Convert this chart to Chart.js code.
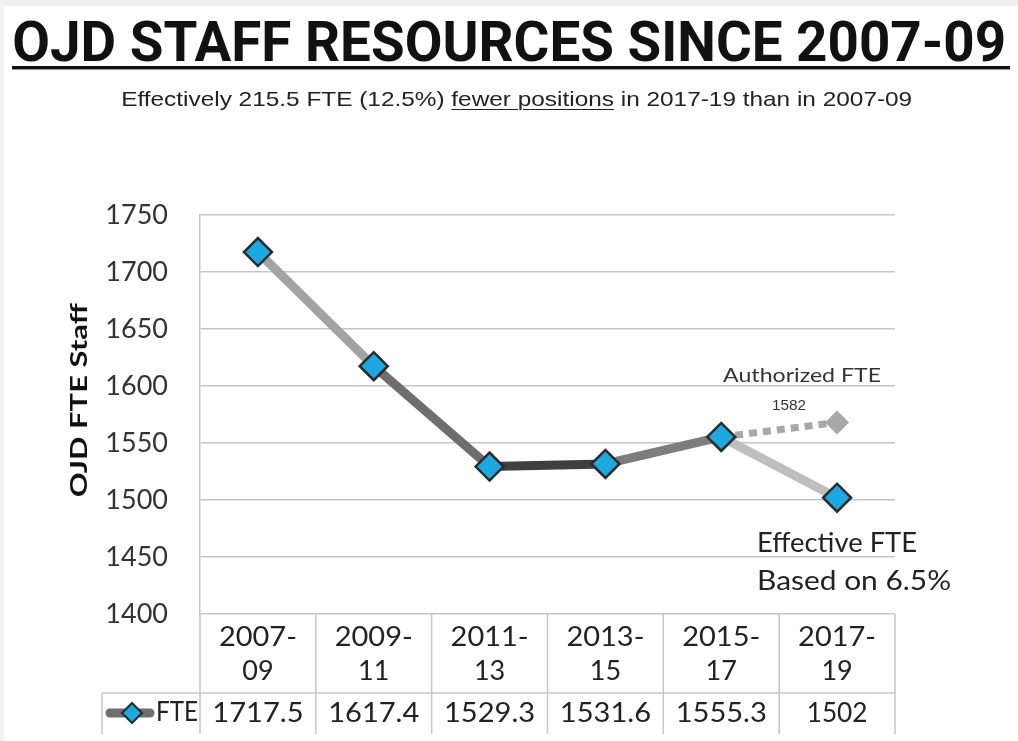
<!DOCTYPE html>
<html>
<head>
<meta charset="utf-8">
<script src="https://cdn.jsdelivr.net/npm/chart.js@4.4.1/dist/chart.umd.min.js"></script>
<style>
html,body{margin:0;padding:0;background:#fff;width:1018px;height:741px;overflow:hidden;}
#wrap{position:relative;width:1018px;height:741px;background:#fff;}
#topband{position:absolute;left:0;top:0;width:1018px;height:6px;background:#efefef;}
#leftband{position:absolute;left:0;top:0;width:4px;height:741px;background:#f3f3f3;}
canvas{position:absolute;left:0;top:0;}
#title{position:absolute;left:0;top:13px;width:1018px;text-align:center;font-family:Roboto,"DejaVu Sans",sans-serif;font-weight:bold;font-size:55px;line-height:58px;color:#111;white-space:nowrap;}
#title span,#sub span.fit{display:inline-block;transform-origin:center center;}
#rule{position:absolute;left:12px;top:66px;width:998px;height:3px;background:#111;border-bottom:1px solid #999;}
#sub{position:absolute;left:0;top:86px;width:1034px;text-align:center;font-family:"Liberation Sans",Arial,sans-serif;font-size:21px;line-height:26px;color:#222;white-space:nowrap;}
#sub u{text-decoration-thickness:1px;text-underline-offset:3px;}
</style>
</head>
<body>
<div id="wrap">
  <div id="topband"></div>
  <div id="leftband"></div>
  <canvas id="c" width="1018" height="741"></canvas>
  <div id="title"><span data-w="994">OJD STAFF RESOURCES SINCE 2007-09</span></div>
  <div id="rule"></div>
  <div id="sub"><span class="fit" data-w="791">Effectively 215.5 FTE (12.5%) <u>fewer positions</u> in 2017-19 than in 2007-09</span></div>
</div>
<script>
// ---- data ----
const categories = ['2007-09', '2009-11', '2011-13', '2013-15', '2015-17', '2017-19'];
const fteValues = [1717.5, 1617.4, 1529.3, 1531.6, 1555.3, 1502];
const authorizedValues = [null, null, null, null, 1555.3, 1568];
const authorizedLabel = '1582';
const yTicks = [1400, 1450, 1500, 1550, 1600, 1650, 1700, 1750];
const seriesName = 'FTE';
const yTitle = 'OJD FTE Staff';

// ---- styles ----
const segmentGreys = ['#a3a3a3', '#6e6e6e', '#3f3f3f', '#7d7d7d', '#bebebe'];
const gridColor = '#c6c6c6';
const blue = '#1ca8e0';
const textFont = 'Lato, "Open Sans", sans-serif';

// fit html text widths
document.querySelectorAll('[data-w]').forEach(el => {
  const target = +el.dataset.w;
  const w = el.getBoundingClientRect().width;
  if (w > 0) el.style.transform = 'scaleX(' + (target / w) + ')';
});

function fitText(ctx, text, x, y, width, align) {
  const w = ctx.measureText(text).width;
  const s = width ? width / w : 1;
  ctx.save();
  ctx.translate(x, y);
  ctx.scale(s, 1);
  ctx.textAlign = align || 'center';
  ctx.fillText(text, 0, 0);
  ctx.restore();
}

function diamond(ctx, x, y, r, fill, stroke, lw) {
  ctx.beginPath();
  ctx.moveTo(x, y - r); ctx.lineTo(x + r, y); ctx.lineTo(x, y + r); ctx.lineTo(x - r, y); ctx.closePath();
  ctx.fillStyle = fill; ctx.fill();
  if (lw) { ctx.lineWidth = lw; ctx.strokeStyle = stroke; ctx.stroke(); }
}

const tablePlugin = {
  id: 'tablePlugin',
  afterDraw(chart) {
    const ctx = chart.ctx, xs = chart.scales.x, ys = chart.scales.y, ca = chart.chartArea;
    const n = categories.length;
    const half = (xs.getPixelForValue(1) - xs.getPixelForValue(0)) / 2;
    const top = ca.bottom, mid = ca.bottom + 79, bot = ca.bottom + 120;
    const keyLeft = ca.left - 98;
    ctx.save();
    ctx.strokeStyle = gridColor; ctx.lineWidth = 1.5;
    const line = (x1, y1, x2, y2) => { ctx.beginPath(); ctx.moveTo(x1, y1); ctx.lineTo(x2, y2); ctx.stroke(); };
    for (let i = 0; i <= n; i++) {
      const x = i < n ? xs.getPixelForValue(i) - half : xs.getPixelForValue(n - 1) + half;
      line(x, top, x, bot);
    }
    line(keyLeft, mid, xs.getPixelForValue(n - 1) + half, mid);
    line(keyLeft, mid, keyLeft, bot);

    ctx.fillStyle = '#222';
    ctx.textBaseline = 'middle';
    ctx.font = '27px ' + textFont;
    categories.forEach((c, i) => {
      const x = xs.getPixelForValue(i);
      const parts = c.split('-');
      fitText(ctx, parts[0] + '-', x, top + 23, 78);
      fitText(ctx, parts[1], x, top + 57, 0);
    });
    fteValues.forEach((v, i) => {
      const x = xs.getPixelForValue(i);
      const s = String(v);
      fitText(ctx, s, x, mid + 20, s.length * 15.2);
    });
    // legend key
    ctx.lineCap = 'round';
    ctx.strokeStyle = '#6e6e6e'; ctx.lineWidth = 9;
    line(keyLeft + 8, mid + 20, keyLeft + 48, mid + 20);
    diamond(ctx, keyLeft + 30, mid + 20, 10, blue, '#2a2a2a', 2);
    ctx.fillStyle = '#222';
    ctx.font = '26px ' + textFont;
    fitText(ctx, seriesName, keyLeft + 54, mid + 20, 42, 'left');

    // annotations
    const x5 = xs.getPixelForValue(n - 1);
    ctx.fillStyle = '#333';
    ctx.font = '20px ' + textFont;
    fitText(ctx, 'Authorized FTE', x5 - 35, ys.getPixelForValue(1609.5), 158);
    ctx.font = '14px "Liberation Sans Narrow", "Liberation Sans", sans-serif';
    fitText(ctx, authorizedLabel, x5 - 48, ys.getPixelForValue(Number(authorizedLabel)), 34);
    ctx.fillStyle = '#222';
    ctx.font = '26px ' + textFont;
    fitText(ctx, 'Effective FTE', x5 - 80, ys.getPixelForValue(1461.5), 160, 'left');
    fitText(ctx, 'Based on 6.5%', x5 - 80, ys.getPixelForValue(1428), 194, 'left');

    // y axis title
    ctx.fillStyle = '#111';
    ctx.font = 'bold 23px ' + textFont;
    ctx.save();
    ctx.translate(ca.left - 120, ys.getPixelForValue(1587.5));
    ctx.rotate(-Math.PI / 2);
    fitText(ctx, yTitle, 0, 0, 194);
    ctx.restore();
    ctx.restore();
  }
};

new Chart(document.getElementById('c'), {
  type: 'line',
  data: {
    labels: categories,
    datasets: [
      {
        label: seriesName,
        data: fteValues,
        order: 0,
        borderWidth: 9,
        borderColor: '#6e6e6e',
        segment: { borderColor: c => segmentGreys[c.p0DataIndex] },
        pointStyle: 'rectRot',
        pointRadius: 14,
        pointHoverRadius: 14,
        pointBackgroundColor: blue,
        pointBorderColor: '#2a2a2a',
        pointBorderWidth: 2.5,
        tension: 0
      },
      {
        label: 'Authorized FTE',
        data: authorizedValues,
        order: 1,
        borderWidth: 7,
        borderColor: '#a8a8a8',
        borderDash: [8, 6],
        pointStyle: 'rectRot',
        pointRadius: c => c.dataIndex === authorizedValues.length - 1 ? 12 : 0,
        pointBackgroundColor: '#a8a8a8',
        pointBorderWidth: 0,
        tension: 0
      }
    ]
  },
  options: {
    responsive: false,
    animation: false,
    layout: { padding: { left: 0, right: 123, top: 215, bottom: 127 } },
    plugins: { legend: { display: false }, tooltip: { enabled: false }, title: { display: false } },
    scales: {
      x: { type: 'category', display: false, offset: true },
      y: {
        min: yTicks[0],
        max: yTicks[yTicks.length - 1],
        afterFit: s => { s.width = 200; },
        afterBuildTicks: s => { s.ticks = yTicks.map(v => ({ value: v })); },
        ticks: {
          stepSize: yTicks[1] - yTicks[0], padding: 32, color: '#333',
          font: { family: 'Lato', size: 27 },
          callback: v => String(v)
        },
        grid: { color: gridColor, lineWidth: 1.5, drawTicks: false },
        border: { display: true, color: gridColor, width: 1.5 }
      }
    }
  },
  plugins: [tablePlugin]
});
</script>
</body>
</html>
